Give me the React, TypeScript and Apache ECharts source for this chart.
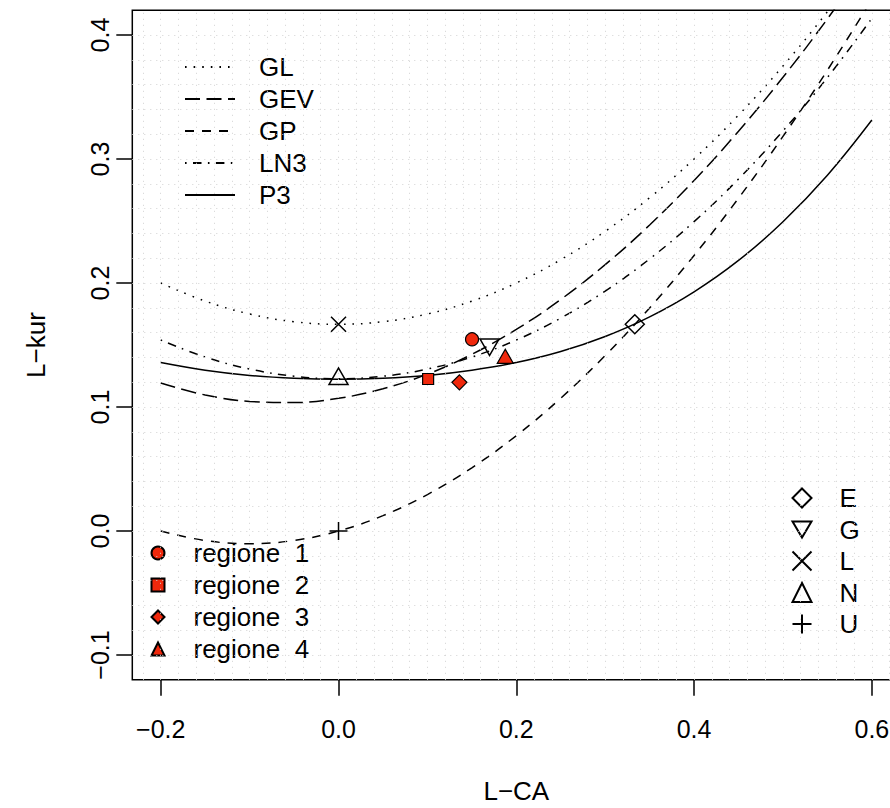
import React, { useEffect, useRef } from 'react';
import * as echarts from 'echarts';

// L-skewness grid on which the theoretical curves are tabulated
const tau3 = [-0.2, -0.15, -0.1, -0.05, 0, 0.05, 0.1, 0.15, 0.2, 0.25, 0.3, 0.35, 0.4, 0.45, 0.5, 0.55, 0.6];

// L-kurtosis of the three-parameter distributions along tau3
const glKur = [0.2, 0.1854, 0.175, 0.1688, 0.1667, 0.1688, 0.175, 0.1854, 0.2, 0.2188, 0.2417, 0.2688, 0.3, 0.3354, 0.375, 0.4188, 0.4667];
const gevKur = [0.1193, 0.1097, 0.1045, 0.1036, 0.107, 0.1147, 0.1265, 0.1425, 0.1626, 0.1867, 0.2148, 0.2468, 0.2827, 0.3224, 0.3659, 0.413, 0.4638];
const gpKur = [0, -0.0077, -0.0102, -0.0076, 0, 0.0124, 0.0294, 0.051, 0.0769, 0.1071, 0.1415, 0.1799, 0.2222, 0.2684, 0.3182, 0.3716, 0.4286];
const ln3Kur = [0.154, 0.1403, 0.1306, 0.1248, 0.1228, 0.1248, 0.1306, 0.1403, 0.154, 0.1717, 0.1935, 0.2194, 0.2495, 0.2839, 0.3226, 0.3657, 0.4134];
const p3Kur = [0.1359, 0.1297, 0.1255, 0.1232, 0.1224, 0.1232, 0.1255, 0.1297, 0.1359, 0.1448, 0.1569, 0.1727, 0.1929, 0.2182, 0.2494, 0.2869, 0.3314];

const curveNames = ['GL', 'GEV', 'GP', 'LN3', 'P3'];

// regional average L-moment ratios
const regionNames = ['regione\u00a0\u00a01', 'regione\u00a0\u00a02', 'regione\u00a0\u00a03', 'regione\u00a0\u00a04'];
const regionLCA = [0.1502, 0.1008, 0.136, 0.1876];
const regionLkur = [0.1546, 0.1226, 0.1199, 0.139];

// two-parameter distributions: Exponential, Gumbel, Logistic, Normal, Uniform
const refNames = ['E', 'G', 'L', 'N', 'U'];
const refLCA = [0.3333, 0.1699, 0, 0, 0];
const refLkur = [0.1667, 0.1504, 0.1667, 0.1226, 0];

const xTicks = [-0.2, 0, 0.2, 0.4, 0.6];
const yTicks = [-0.1, 0, 0.1, 0.2, 0.3, 0.4];

const FONT = '"Liberation Sans", Arial, Helvetica, sans-serif';
const RED = '#f0280c';

const curveStyles: any[] = [
  [1.6, 7],
  [15, 6.5],
  [9, 8],
  [1.6, 6.4, 8.5, 6.4],
  'solid',
];
const curveValues = [glKur, gevKur, gpKur, ln3Kur, p3Kur];

const fmt = (v: number) => (v < 0 ? '\u2212' : '') + Math.abs(v).toFixed(1);

function buildOption() {
  const gridLines: any[] = [];
  for (let i = -11; i <= 31; i++) gridLines.push({ xAxis: i / 50 });
  for (let i = -5; i <= 20; i++) gridLines.push({ yAxis: i / 50 });

  const curveSeries = curveNames.map((name, k) => ({
    name,
    type: 'line',
    data: tau3.map((t, i) => [t, curveValues[k][i]]),
    smooth: 0.4,
    symbol: 'none',
    showSymbol: false,
    clip: true,
    z: 3,
    lineStyle: { color: '#000', width: 1.5, type: curveStyles[k] },
    itemStyle: { color: '#000' },
  }));

  const regionSymbols: any[] = ['circle', 'rect', 'diamond', 'triangle'];
  const regionSizes: any[] = [13, 11, 15, [16, 14]];
  const regionOffsets: any[] = [[0, 0], [0, 0], [0, 0], [0, -2.3]];
  const regionSeries = regionNames.map((name, k) => ({
    name,
    type: 'scatter',
    data: [[regionLCA[k], regionLkur[k]]],
    symbol: regionSymbols[k],
    symbolSize: regionSizes[k],
    symbolOffset: regionOffsets[k],
    z: 6,
    itemStyle: { color: RED, borderColor: '#000', borderWidth: 1.2, opacity: 1 },
  }));

  const refSymbols: any[] = [
    'diamond',
    'path://M0,0L20,0L10,17Z',
    'path://M0,0L10,10M10,0L0,10',
    'triangle',
    'path://M5,0L5,10M0,5L10,5',
  ];
  const refSizes: any[] = [19, [19, 16.5], 15, [19, 16.5], 18];
  const refOffsets: any[] = [[0, 0], [0, 2.75], [0, 0], [0, -2.75], [0, 0]];
  const refSeries = refNames.map((name, k) => ({
    name,
    type: 'scatter',
    data: [[refLCA[k], refLkur[k]]],
    symbol: refSymbols[k],
    symbolSize: refSizes[k],
    symbolOffset: refOffsets[k],
    z: 5,
    itemStyle: { color: 'rgba(0,0,0,0)', borderColor: '#000', borderWidth: 1.5, opacity: 1 },
  }));

  const gridSeries = {
    name: 'grid',
    type: 'line',
    data: [],
    z: 1,
    silent: true,
    markLine: {
      silent: true,
      symbol: ['none', 'none'],
      label: { show: false },
      animation: false,
      lineStyle: { color: '#d2d2d2', type: [1, 5], width: 1 },
      data: gridLines,
    },
  };

  const legendText = (pad: number) => ({
    fontSize: 26,
    color: '#000',
    fontFamily: FONT,
    padding: [0, 0, 0, pad],
  });

  return {
    animation: false,
    backgroundColor: '#fff',
    textStyle: { fontFamily: FONT },
    grid: {
      left: 132.3,
      top: 10.2,
      width: 768,
      height: 669.6,
      containLabel: false,
      outerBoundsMode: 'none',
      show: true,
      borderColor: '#000',
      borderWidth: 1.5,
      backgroundColor: 'transparent',
    },
    xAxis: {
      type: 'value',
      min: -0.232,
      max: 0.632,
      name: 'L\u2212CA',
      nameLocation: 'middle',
      nameGap: 98,
      nameTextStyle: { fontSize: 26, color: '#000', fontFamily: FONT },
      axisLine: { show: false, onZero: false },
      axisTick: { show: true, length: 16, customValues: xTicks, lineStyle: { color: '#000', width: 1.5 } },
      axisLabel: { customValues: xTicks, margin: 37, fontSize: 25, color: '#000', fontFamily: FONT, formatter: fmt },
      splitLine: { show: false },
    },
    yAxis: {
      type: 'value',
      min: -0.12,
      max: 0.42,
      name: 'L\u2212kur',
      nameLocation: 'middle',
      nameGap: 83,
      nameTextStyle: { fontSize: 26, color: '#000', fontFamily: FONT },
      axisLine: { show: false, onZero: false },
      axisTick: { show: true, length: 16, customValues: yTicks, lineStyle: { color: '#000', width: 1.5 } },
      axisLabel: { customValues: yTicks, margin: 20, rotate: 90, fontSize: 25, color: '#000', fontFamily: FONT, formatter: fmt },
      splitLine: { show: false },
    },
    legend: [
      {
        data: curveNames,
        orient: 'vertical',
        left: 184,
        top: 54,
        padding: 0,
        itemWidth: 50,
        itemHeight: 20,
        itemGap: 6,
        selectedMode: false,
        itemStyle: { color: 'rgba(0,0,0,0)', borderWidth: 0, opacity: 0 },
        textStyle: legendText(19),
      },
      {
        data: regionNames,
        orient: 'vertical',
        left: 150.5,
        top: 540,
        padding: 0,
        itemWidth: 13,
        itemHeight: 13,
        itemGap: 6,
        selectedMode: false,
        textStyle: legendText(24),
      },
      {
        data: refNames,
        orient: 'vertical',
        left: 791.5,
        top: 485,
        padding: 0,
        itemWidth: 19,
        itemHeight: 19,
        itemGap: 5.5,
        selectedMode: false,
        textStyle: legendText(23),
      },
    ],
    series: [gridSeries, ...curveSeries, ...refSeries, ...regionSeries],
  };
}

export default function App() {
  const ref = useRef<HTMLDivElement>(null);
  useEffect(() => {
    const chart = echarts.init(ref.current!, null, { renderer: 'svg' });
    chart.setOption(buildOption() as any);
    return () => chart.dispose();
  }, []);
  return (
    <div
      ref={ref}
      style={{ position: 'fixed', left: 0, top: 0, width: 890, height: 808, background: '#fff' }}
    />
  );
}
